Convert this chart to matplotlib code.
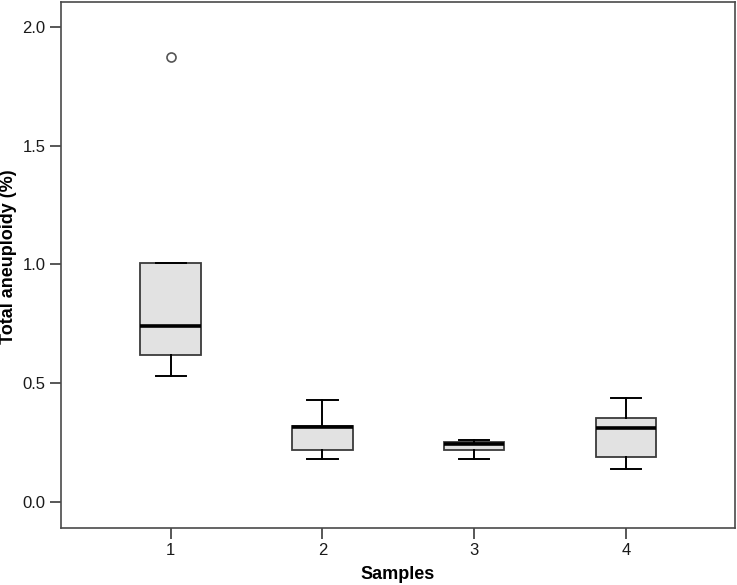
import matplotlib
matplotlib.use("Agg")
import matplotlib.pyplot as plt

plt.rcParams["font.family"] = ["Liberation Sans", "DejaVu Sans"]

# box statistics, one entry per sample
samples = ["1", "2", "3", "4"]
whisker_low = [0.528, 0.180, 0.179, 0.139]
q1 = [0.618, 0.218, 0.218, 0.187]
median = [0.739, 0.315, 0.242, 0.310]
q3 = [1.007, 0.319, 0.249, 0.354]
whisker_high = [1.007, 0.427, 0.260, 0.438]
outliers = [[1.873], [], [], []]

stats = []
for i, lab in enumerate(samples):
    stats.append({"label": lab, "whislo": whisker_low[i], "q1": q1[i], "med": median[i],
                  "q3": q3[i], "whishi": whisker_high[i], "fliers": outliers[i]})

fig = plt.figure(figsize=(7.37, 5.85), dpi=100)
ax = fig.add_axes([0.0824, 0.098, 0.915, 0.899])

EDGE = "#3a3a3a"
ax.bxp(stats, positions=range(1, len(samples) + 1), widths=0.40, patch_artist=True,
       boxprops=dict(facecolor="#e2e2e2", edgecolor=EDGE, linewidth=1.3),
       medianprops=dict(color="black", linewidth=2.6),
       whiskerprops=dict(color="black", linewidth=1.4),
       capprops=dict(color="black", linewidth=1.4),
       capwidths=0.2,
       flierprops=dict(marker="o", markerfacecolor="white", markeredgecolor="#555555",
                       markersize=6.5, markeredgewidth=1.2))

ax.set_xlim(0.275, 4.72)
ax.set_ylim(-0.11, 2.106)
ax.set_yticks([0.0, 0.5, 1.0, 1.5, 2.0])
ax.set_yticklabels(["0.0", "0.5", "1.0", "1.5", "2.0"])
ax.set_xticks(range(1, len(samples) + 1))
ax.set_xticklabels(samples)

for s in ax.spines.values():
    s.set_color("#4a4a4a")
    s.set_linewidth(1.2)
ax.tick_params(direction="out", length=8, width=1.3, color="#4a4a4a",
               labelsize=12, labelcolor="#1a1a1a", pad=3)

ax.set_ylabel("Total aneuploidy (%)", fontsize=13, fontweight="bold", va="center")
ax.yaxis.set_label_coords(-0.078, 0.516)
ax.set_xlabel("Samples", fontsize=13, fontweight="bold", labelpad=6)

fig.savefig("out.png", dpi=100)
